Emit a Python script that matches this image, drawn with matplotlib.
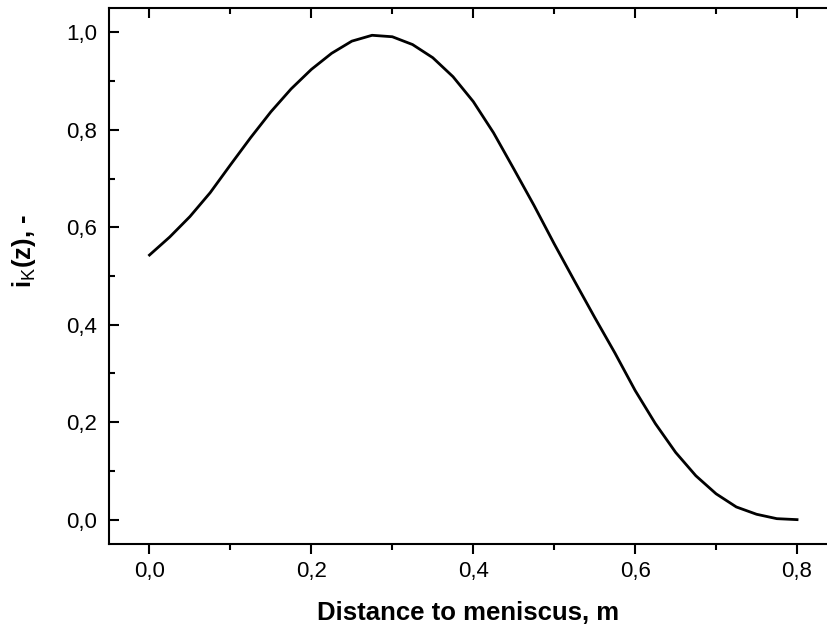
import matplotlib
matplotlib.use("Agg")
import matplotlib.pyplot as plt
from matplotlib.ticker import MultipleLocator, FuncFormatter

plt.rcParams['font.family'] = ['Liberation Sans', 'DejaVu Sans']
plt.rcParams['mathtext.fontset'] = 'custom'
plt.rcParams['mathtext.rm'] = 'Liberation Sans'
plt.rcParams['mathtext.bf'] = 'Liberation Sans:bold'

# distance to meniscus (m) and i_K(z)
dist = [0.0, 0.025, 0.05, 0.075, 0.1, 0.125, 0.15, 0.175, 0.2, 0.225, 0.25,
        0.275, 0.3, 0.325, 0.35, 0.375, 0.4, 0.425, 0.45, 0.475, 0.5, 0.525,
        0.55, 0.575, 0.6, 0.625, 0.65, 0.675, 0.7, 0.725, 0.75, 0.775, 0.8]
ik = [0.543, 0.580, 0.622, 0.671, 0.728, 0.784, 0.837, 0.884, 0.924, 0.957,
      0.982, 0.994, 0.991, 0.975, 0.948, 0.909, 0.858, 0.794, 0.720, 0.645,
      0.566, 0.490, 0.415, 0.342, 0.265, 0.197, 0.138, 0.090, 0.053, 0.026,
      0.011, 0.002, 0.0]

W, H = 827, 628
fig = plt.figure(figsize=(W / 100, H / 100), dpi=100)
ax = fig.add_axes([109 / W, (H - 544) / H, (W - 109) / W, (544 - 8) / H])

ax.plot(dist, ik, color='black', lw=2.0, solid_joinstyle='round')

ax.set_xlim(-0.05, 0.837)
ax.set_ylim(-0.05, 1.05)

ax.spines['right'].set_visible(False)
for s in ['left', 'top', 'bottom']:
    ax.spines[s].set_linewidth(1.5)

ax.xaxis.set_major_locator(MultipleLocator(0.2))
ax.xaxis.set_minor_locator(MultipleLocator(0.1))
ax.yaxis.set_major_locator(MultipleLocator(0.2))
ax.yaxis.set_minor_locator(MultipleLocator(0.1))
comma = FuncFormatter(lambda v, p: ('%.1f' % v).replace('.', ',').replace('-0,0', '0,0'))
ax.xaxis.set_major_formatter(comma)
ax.yaxis.set_major_formatter(comma)

ax.tick_params(axis='x', which='major', direction='out', length=7.5, width=1.5,
               labelsize=16, pad=5, top=True)
ax.tick_params(axis='x', which='minor', direction='out', length=4, width=1.5, top=True)
ax.tick_params(axis='y', which='major', direction='in', length=7.5, width=1.5,
               labelsize=16, pad=8.5, right=False)
ax.tick_params(axis='y', which='minor', direction='in', length=4, width=1.5, right=False)
# top ticks point into the plot
for t in ax.xaxis.get_major_ticks() + ax.xaxis.get_minor_ticks():
    t.tick2line.set_marker(matplotlib.lines.TICKDOWN)

ax.set_xlabel('Distance to meniscus, m', fontsize=18.5, fontweight='bold')
ax.set_ylabel(r'i$_{\mathrm{K}}$(z), -', fontsize=18.5, fontweight='bold')
ax.xaxis.set_label_coords(0.5, -0.107)
ax.yaxis.set_label_coords(-0.099, 0.547)

fig.savefig('out.png', dpi=100)
